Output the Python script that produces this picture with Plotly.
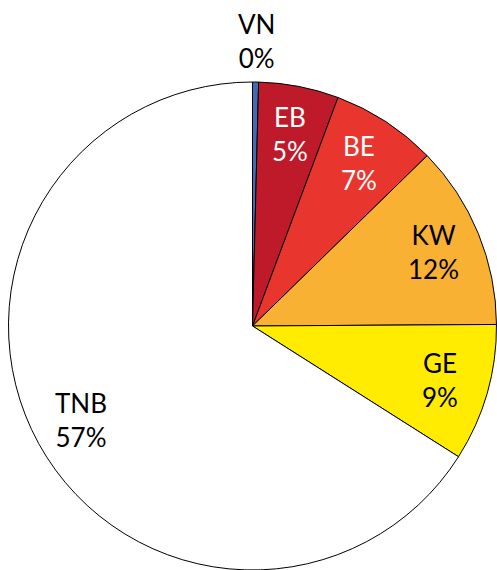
import math
import plotly.graph_objects as go

# slices clockwise from 12 o'clock
labels = ["VN", "EB", "BE", "KW", "GE", "TNB"]
shares = [0.4, 5.3, 7.0, 12.2, 9.1, 66.0]  # slice sizes as drawn
pct_text = ["0%", "5%", "7%", "12%", "9%", "57%"]  # printed percentages
colors = ["#3D6DB5", "#BE1A2A", "#E8362F", "#F9B134", "#FFEC00", "#FFFFFF"]
text_colors = ["#000000", "#FFFFFF", "#FFFFFF", "#000000", "#000000", "#000000"]
label_radius = [1.17, 0.8, 0.8, 0.8, 0.8, 0.8]  # fraction of pie radius

W, H = 497, 570
margin = dict(l=8, r=0, t=82, b=0)
pw = W - margin["l"] - margin["r"]
ph = H - margin["t"] - margin["b"]
R = min(pw, ph) / 2

fig = go.Figure(
    go.Pie(
        labels=labels,
        values=shares,
        textinfo="none",
        sort=False,
        direction="clockwise",
        rotation=0,
        marker=dict(colors=colors, line=dict(color="#000000", width=1)),
        showlegend=False,
        hoverinfo="label",
    )
)

# labels at the middle of each slice
total = sum(shares)
cum = 0
for lab, val, pct, col, fr in zip(labels, shares, pct_text, text_colors, label_radius):
    ang = 2 * math.pi * (cum + val / 2) / total
    cum += val
    fig.add_annotation(
        x=0.5 + fr * R * math.sin(ang) / pw,
        y=0.5 + fr * R * math.cos(ang) / ph,
        xref="paper",
        yref="paper",
        text=f"{lab}<br>{pct}",
        showarrow=False,
        xanchor="center",
        yanchor="middle",
        align="center",
        font=dict(family="Lato, sans-serif", size=26, color=col),
    )

fig.update_layout(
    width=W,
    height=H,
    margin=margin,
    paper_bgcolor="white",
    plot_bgcolor="white",
)
# drop the default page margin so the figure fills the window
fig.write_html(
    "out.html",
    config={"displayModeBar": False},
    post_script="document.body.style.margin='0';document.body.style.overflow='hidden';",
)
